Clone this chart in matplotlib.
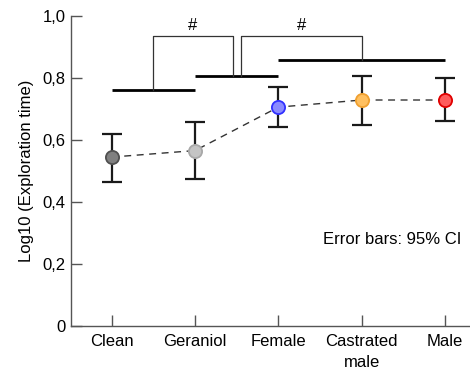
import numpy as np
import matplotlib.pyplot as plt

plt.rcParams['font.family'] = ['Liberation Sans', 'DejaVu Sans']

groups = ['Clean', 'Geraniol', 'Female', 'Castrated\nmale', 'Male']
means = [0.545, 0.566, 0.706, 0.729, 0.729]
ci_low = [0.466, 0.474, 0.642, 0.650, 0.660]
ci_high = [0.621, 0.658, 0.771, 0.806, 0.800]
face = ['#808080', '#c4c4c4', '#8a8aff', '#ffc060', '#ff5c5c']
edge = ['#505050', '#a8a8a8', '#3030ff', '#f0a030', '#e00000']

# homogeneous subsets (group index ranges) and their heights
subsets = [(0, 1, 0.760), (1, 2, 0.808), (2, 4, 0.858)]
# comparisons between subsets: (from x, to x, from y, to y)
brackets = [(0.5, 1.45, 0.760, 0.808), (1.55, 3.0, 0.808, 0.858)]
bracket_top = 0.935

x = np.arange(len(groups))
means = np.array(means)
yerr = [means - np.array(ci_low), np.array(ci_high) - means]

fig = plt.figure(figsize=(4.7, 3.71), dpi=100)
ax = fig.add_axes([0.151, 0.121, 0.849, 0.836])

ax.plot(x, means, ls=(0, (5, 4)), color='#333333', lw=1, zorder=2)
ax.errorbar(x, means, yerr=yerr, fmt='none', ecolor='#1a1a1a', elinewidth=1.6,
            capsize=7.5, capthick=1.6, zorder=3)
for i in range(len(x)):
    ax.plot(x[i], means[i], 'o', ms=9.5, mfc=face[i], mec=edge[i], mew=1.3, zorder=4)

for a, b, h in subsets:
    ax.plot([a, b], [h, h], color='black', lw=2, solid_capstyle='butt')
for x0, x1, y0, y1 in brackets:
    ax.plot([x0, x0, x1, x1], [y0, bracket_top, bracket_top, y1], color='#333333', lw=0.9)
    ax.text((x0 + x1) / 2, bracket_top + 0.01, '#', ha='center', va='bottom', fontsize=12)

ax.text(4.2, 0.28, 'Error bars: 95% CI', ha='right', va='center', fontsize=12)

ax.set_xlim(-0.49, 4.30)
ax.set_ylim(0, 1.0)
ax.set_xticks(x)
ax.set_xticklabels(groups, fontsize=12, linespacing=1.45)
yt = [0, 0.2, 0.4, 0.6, 0.8, 1.0]
ax.set_yticks(yt)
ax.set_yticklabels(['0' if v == 0 else f'{v:.1f}'.replace('.', ',') for v in yt], fontsize=12)
ax.set_ylabel('Log10 (Exploration time)', fontsize=12, labelpad=6)

for s in ['top', 'right']:
    ax.spines[s].set_visible(False)
for s in ['left', 'bottom']:
    ax.spines[s].set_color('#555555')
    ax.spines[s].set_linewidth(1)
ax.tick_params(direction='in', length=8, color='#555555', width=1)
ax.tick_params(axis='x', pad=6)
ax.tick_params(axis='y', pad=4)

fig.savefig('out.png', dpi=100)
